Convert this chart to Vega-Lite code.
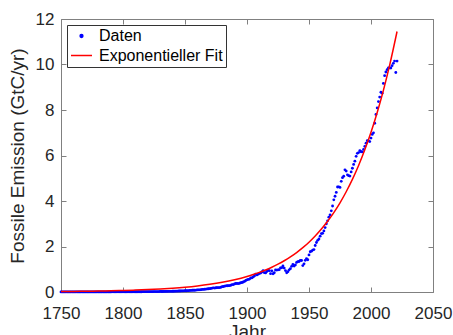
{
"$schema": "https://vega.github.io/schema/vega-lite/v6.json",
"width": 372, "height": 273,
"autosize": {"type": "none"},
"padding": {"left": 61, "top": 19, "right": 20, "bottom": 43},
"background": "white",
"config": {"view": {"stroke": null}, "font": "Liberation Sans",
  "axis": {"grid": false, "domainColor": "#808080", "tickColor": "#808080", "labelColor": "#262626", "titleColor": "#262626", "labelFont": "Liberation Sans", "titleFont": "Liberation Sans", "titleFontWeight": "normal", "labelFontSize": 17, "titleFontSize": 19, "tickSize": -5, "domainWidth": 1, "labelFlush": false},
  "legend": {"symbolStrokeWidth": 1.5}},
"datasets": {
"fit": [
{"year":1750,"value":0.0207},{"year":1760,"value":0.0261},{"year":1770,"value":0.033},{"year":1780,"value":0.0417},{"year":1790,"value":0.0526},{"year":1800,"value":0.0664},{"year":1810,"value":0.0839},{"year":1820,"value":0.1059},{"year":1830,"value":0.1337},{"year":1840,"value":0.1688},{"year":1850,"value":0.213},{"year":1860,"value":0.2689},{"year":1870,"value":0.3395},{"year":1880,"value":0.4286},{"year":1890,"value":0.5411},{"year":1900,"value":0.683},{"year":1905,"value":0.767},{"year":1910,"value":0.862},{"year":1915,"value":0.969},{"year":1920,"value":1.089},{"year":1925,"value":1.223},{"year":1930,"value":1.374},{"year":1935,"value":1.544},{"year":1940,"value":1.735},{"year":1945,"value":1.949},{"year":1950,"value":2.19},{"year":1955,"value":2.461},{"year":1960,"value":2.765},{"year":1965,"value":3.107},{"year":1970,"value":3.49},{"year":1975,"value":3.921},{"year":1980,"value":4.406},{"year":1985,"value":4.95},{"year":1990,"value":5.562},{"year":1995,"value":6.249},{"year":2000,"value":7.022},{"year":2005,"value":7.89},{"year":2010,"value":8.865},{"year":2015,"value":9.961},{"year":2021,"value":11.45}
],
"obs": [
{"year":1750,"value":0.003},{"year":1751,"value":0.003},{"year":1752,"value":0.003},{"year":1753,"value":0.003},{"year":1754,"value":0.003},{"year":1755,"value":0.003},{"year":1756,"value":0.003},{"year":1757,"value":0.003},{"year":1758,"value":0.003},{"year":1759,"value":0.003},
{"year":1760,"value":0.003},{"year":1761,"value":0.003},{"year":1762,"value":0.003},{"year":1763,"value":0.003},{"year":1764,"value":0.003},{"year":1765,"value":0.003},{"year":1766,"value":0.003},{"year":1767,"value":0.003},{"year":1768,"value":0.003},{"year":1769,"value":0.003},
{"year":1770,"value":0.003},{"year":1771,"value":0.004},{"year":1772,"value":0.004},{"year":1773,"value":0.004},{"year":1774,"value":0.004},{"year":1775,"value":0.004},{"year":1776,"value":0.004},{"year":1777,"value":0.004},{"year":1778,"value":0.004},{"year":1779,"value":0.004},
{"year":1780,"value":0.004},{"year":1781,"value":0.005},{"year":1782,"value":0.005},{"year":1783,"value":0.005},{"year":1784,"value":0.005},{"year":1785,"value":0.005},{"year":1786,"value":0.005},{"year":1787,"value":0.005},{"year":1788,"value":0.005},{"year":1789,"value":0.005},
{"year":1790,"value":0.005},{"year":1791,"value":0.006},{"year":1792,"value":0.006},{"year":1793,"value":0.006},{"year":1794,"value":0.006},{"year":1795,"value":0.006},{"year":1796,"value":0.006},{"year":1797,"value":0.007},{"year":1798,"value":0.007},{"year":1799,"value":0.007},
{"year":1800,"value":0.008},{"year":1801,"value":0.008},{"year":1802,"value":0.01},{"year":1803,"value":0.009},{"year":1804,"value":0.009},{"year":1805,"value":0.009},{"year":1806,"value":0.01},{"year":1807,"value":0.01},{"year":1808,"value":0.01},{"year":1809,"value":0.01},
{"year":1810,"value":0.01},{"year":1811,"value":0.011},{"year":1812,"value":0.011},{"year":1813,"value":0.011},{"year":1814,"value":0.011},{"year":1815,"value":0.012},{"year":1816,"value":0.013},{"year":1817,"value":0.014},{"year":1818,"value":0.014},{"year":1819,"value":0.014},
{"year":1820,"value":0.014},{"year":1821,"value":0.014},{"year":1822,"value":0.015},{"year":1823,"value":0.016},{"year":1824,"value":0.016},{"year":1825,"value":0.017},{"year":1826,"value":0.017},{"year":1827,"value":0.018},{"year":1828,"value":0.018},{"year":1829,"value":0.018},
{"year":1830,"value":0.024},{"year":1831,"value":0.023},{"year":1832,"value":0.023},{"year":1833,"value":0.024},{"year":1834,"value":0.024},{"year":1835,"value":0.025},{"year":1836,"value":0.029},{"year":1837,"value":0.029},{"year":1838,"value":0.03},{"year":1839,"value":0.031},
{"year":1840,"value":0.033},{"year":1841,"value":0.034},{"year":1842,"value":0.036},{"year":1843,"value":0.037},{"year":1844,"value":0.039},{"year":1845,"value":0.043},{"year":1846,"value":0.043},{"year":1847,"value":0.046},{"year":1848,"value":0.047},{"year":1849,"value":0.05},
{"year":1850,"value":0.054},{"year":1851,"value":0.054},{"year":1852,"value":0.057},{"year":1853,"value":0.059},{"year":1854,"value":0.069},{"year":1855,"value":0.071},{"year":1856,"value":0.076},{"year":1857,"value":0.077},{"year":1858,"value":0.078},{"year":1859,"value":0.083},
{"year":1860,"value":0.091},{"year":1861,"value":0.095},{"year":1862,"value":0.097},{"year":1863,"value":0.104},{"year":1864,"value":0.112},{"year":1865,"value":0.119},{"year":1866,"value":0.122},{"year":1867,"value":0.13},{"year":1868,"value":0.135},{"year":1869,"value":0.142},
{"year":1870,"value":0.147},{"year":1871,"value":0.156},{"year":1872,"value":0.173},{"year":1873,"value":0.184},{"year":1874,"value":0.174},{"year":1875,"value":0.188},{"year":1876,"value":0.191},{"year":1877,"value":0.194},{"year":1878,"value":0.196},{"year":1879,"value":0.21},
{"year":1880,"value":0.236},{"year":1881,"value":0.243},{"year":1882,"value":0.256},{"year":1883,"value":0.272},{"year":1884,"value":0.275},{"year":1885,"value":0.277},{"year":1886,"value":0.281},{"year":1887,"value":0.295},{"year":1888,"value":0.327},{"year":1889,"value":0.327},
{"year":1890,"value":0.356},{"year":1891,"value":0.372},{"year":1892,"value":0.374},{"year":1893,"value":0.37},{"year":1894,"value":0.383},{"year":1895,"value":0.406},{"year":1896,"value":0.419},{"year":1897,"value":0.44},{"year":1898,"value":0.465},{"year":1899,"value":0.507},
{"year":1900,"value":0.534},{"year":1901,"value":0.552},{"year":1902,"value":0.566},{"year":1903,"value":0.617},{"year":1904,"value":0.624},{"year":1905,"value":0.663},{"year":1906,"value":0.707},{"year":1907,"value":0.784},{"year":1908,"value":0.75},{"year":1909,"value":0.785},
{"year":1910,"value":0.819},{"year":1911,"value":0.836},{"year":1912,"value":0.879},{"year":1913,"value":0.943},{"year":1914,"value":0.85},{"year":1915,"value":0.838},{"year":1916,"value":0.901},{"year":1917,"value":0.955},{"year":1918,"value":0.936},{"year":1919,"value":0.806},
{"year":1920,"value":0.932},{"year":1921,"value":0.803},{"year":1922,"value":0.845},{"year":1923,"value":0.97},{"year":1924,"value":0.963},{"year":1925,"value":0.975},{"year":1926,"value":0.983},{"year":1927,"value":1.062},{"year":1928,"value":1.065},{"year":1929,"value":1.145},
{"year":1930,"value":1.053},{"year":1931,"value":0.94},{"year":1932,"value":0.847},{"year":1933,"value":0.893},{"year":1934,"value":0.973},{"year":1935,"value":1.027},{"year":1936,"value":1.13},{"year":1937,"value":1.209},{"year":1938,"value":1.142},{"year":1939,"value":1.192},
{"year":1940,"value":1.299},{"year":1941,"value":1.334},{"year":1942,"value":1.342},{"year":1943,"value":1.391},{"year":1944,"value":1.383},{"year":1945,"value":1.16},{"year":1946,"value":1.238},{"year":1947,"value":1.392},{"year":1948,"value":1.469},{"year":1949,"value":1.419},
{"year":1950,"value":1.63},{"year":1951,"value":1.768},{"year":1952,"value":1.796},{"year":1953,"value":1.841},{"year":1954,"value":1.865},{"year":1955,"value":2.043},{"year":1956,"value":2.177},{"year":1957,"value":2.27},{"year":1958,"value":2.33},{"year":1959,"value":2.454},
{"year":1960,"value":2.569},{"year":1961,"value":2.58},{"year":1962,"value":2.686},{"year":1963,"value":2.833},{"year":1964,"value":2.995},{"year":1965,"value":3.13},{"year":1966,"value":3.288},{"year":1967,"value":3.393},{"year":1968,"value":3.566},{"year":1969,"value":3.78},
{"year":1970,"value":4.053},{"year":1971,"value":4.208},{"year":1972,"value":4.376},{"year":1973,"value":4.614},{"year":1974,"value":4.623},{"year":1975,"value":4.596},{"year":1976,"value":4.864},{"year":1977,"value":5.026},{"year":1978,"value":5.087},{"year":1979,"value":5.369},
{"year":1980,"value":5.315},{"year":1981,"value":5.152},{"year":1982,"value":5.113},{"year":1983,"value":5.094},{"year":1984,"value":5.28},{"year":1985,"value":5.439},{"year":1986,"value":5.607},{"year":1987,"value":5.752},{"year":1988,"value":5.965},{"year":1989,"value":6.097},
{"year":1990,"value":6.127},{"year":1991,"value":6.217},{"year":1992,"value":6.164},{"year":1993,"value":6.162},{"year":1994,"value":6.266},{"year":1995,"value":6.398},{"year":1996,"value":6.542},{"year":1997,"value":6.651},{"year":1998,"value":6.643},{"year":1999,"value":6.61},
{"year":2000,"value":6.765},{"year":2001,"value":6.927},{"year":2002,"value":6.996},{"year":2003,"value":7.416},{"year":2004,"value":7.807},{"year":2005,"value":8.093},{"year":2006,"value":8.37},{"year":2007,"value":8.566},{"year":2008,"value":8.783},{"year":2009,"value":8.74},
{"year":2010,"value":9.167},{"year":2011,"value":9.508},{"year":2012,"value":9.671},{"year":2013,"value":9.773},{"year":2014,"value":9.848},{"year":2015,"value":9.853},{"year":2016,"value":9.847},{"year":2017,"value":9.947},{"year":2018,"value":10.05},{"year":2019,"value":10.15},
{"year":2020,"value":9.65},{"year":2021,"value":10.15}
]
},
"layer": [
{"data": {"name": "obs"},
 "mark": {"type": "point", "filled": true, "opacity": 1},
 "encoding": {
  "x": {"field": "year", "type": "quantitative", "scale": {"domain": [1750, 2050], "nice": false},
        "axis": {"orient": "top", "labels": false, "title": null, "values": [1750,1800,1850,1900,1950,2000,2050]}},
  "y": {"field": "value", "type": "quantitative", "scale": {"domain": [0, 12], "nice": false},
        "axis": {"orient": "right", "labels": false, "title": null, "values": [0,2,4,6,8,10,12]}},
  "color": {"datum": "Daten", "type": "nominal",
            "scale": {"domain": ["Daten", "Exponentieller Fit"], "range": ["#0000FF", "#FF0000"]},
            "legend": {"title": null, "orient": "top-left", "offset": 6, "padding": 3, "rowPadding": -2,
                       "labelFontSize": 16, "labelFont": "Liberation Sans", "labelColor": "#000000", "labelOffset": 6,
                       "strokeColor": "#333333", "fillColor": "white"}},
  "shape": {"datum": "Daten", "type": "nominal",
            "scale": {"domain": ["Daten", "Exponentieller Fit"], "range": ["circle", "stroke"]}},
  "size": {"datum": "Daten", "type": "ordinal",
           "scale": {"domain": ["Daten", "Exponentieller Fit"], "range": [8, 441]}}
 }},
{"data": {"name": "fit"},
 "mark": {"type": "line", "strokeWidth": 1.5, "interpolate": "monotone"},
 "encoding": {
  "x": {"field": "year", "type": "quantitative",
        "axis": {"orient": "bottom", "title": "Jahr", "format": "d", "labelPadding": 18, "titlePadding": 1, "values": [1750,1800,1850,1900,1950,2000,2050]}},
  "y": {"field": "value", "type": "quantitative",
        "axis": {"orient": "left", "title": "Fossile Emission (GtC/yr)", "labelPadding": 12, "titlePadding": 8, "values": [0,2,4,6,8,10,12]}},
  "color": {"datum": "Exponentieller Fit", "type": "nominal"}
 }}
],
"resolve": {"axis": {"x": "independent", "y": "independent"}}
}
